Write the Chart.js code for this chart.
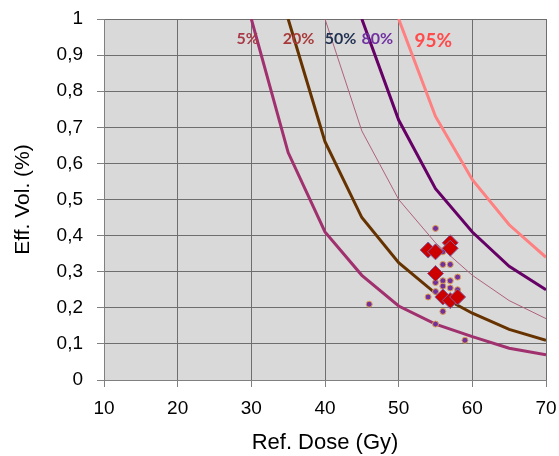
<!DOCTYPE html>
<html>
<head>
<meta charset="utf-8">
<script src="https://cdn.jsdelivr.net/npm/chart.js@4"></script>
<style>
  html, body { margin: 0; padding: 0; background: #fff; }
  #wrap { width: 559px; height: 456px; }
</style>
</head>
<body>
<div id="wrap"><canvas id="myChart" width="559" height="456"></canvas></div>
<script>
'use strict';

// reference dose (Gy) where the iso curves are sampled
const curveDoses5  = [30, 35, 40, 45, 50, 55, 60, 65, 70];
const curve5       = [1, 0.63, 0.41, 0.29, 0.205, 0.155, 0.12, 0.088, 0.07];
const curveDoses20 = [35, 40, 45, 50, 55, 60, 65, 70];
const curve20      = [1, 0.66, 0.45, 0.325, 0.24, 0.185, 0.14, 0.11];
const curveDoses50 = [40, 45, 50, 55, 60, 65, 70];
const curve50      = [1, 0.69, 0.5, 0.38, 0.29, 0.22, 0.17];
const curveDoses80 = [45, 50, 55, 60, 65, 70];
const curve80      = [1, 0.72, 0.53, 0.41, 0.315, 0.25];
const curveDoses95 = [50, 55, 60, 65, 70];
const curve95      = [1, 0.73, 0.555, 0.43, 0.34];

// patients (small dots)
const dotDose = [46, 54, 55, 55, 55, 55, 56, 56, 56, 56, 56, 56, 57, 57, 57, 58, 58, 59];
const dotVol  = [0.21, 0.23, 0.42, 0.27, 0.245, 0.155, 0.355, 0.32, 0.275, 0.26, 0.24, 0.19, 0.32, 0.275, 0.255, 0.285, 0.25, 0.11];

// patients with complication (diamonds)
const diaDose = [54, 55, 57, 57, 55, 56, 57, 58];
const diaVol  = [0.36, 0.355, 0.38, 0.365, 0.295, 0.23, 0.22, 0.23];

const curveLabels = ['5%', '20%', '50%', '80%', '95%'];
const labelDose   = [29.5, 36.4, 42.1, 47.1, 54.7];
const labelVol    = [0.945, 0.945, 0.945, 0.945, 0.94];

const xTicks = [10, 20, 30, 40, 50, 60, 70];

function pts(xs, ys){
  return xs.map((x, i) => ({x: x, y: ys[i]}));
}

function curve(label, xs, ys, color, width){
  return {
    label: label,
    data: pts(xs, ys),
    showLine: true,
    borderColor: color,
    backgroundColor: color,
    borderWidth: width,
    pointRadius: 0,
    tension: 0,
    order: 5
  };
}

const plotBg = {
  id: 'plotBg',
  beforeDraw(chart){
    const a = chart.chartArea;
    const ctx = chart.ctx;
    ctx.save();
    ctx.fillStyle = '#d9d9d9';
    ctx.fillRect(a.left, a.top, a.right - a.left, a.bottom - a.top);
    ctx.restore();
  }
};

const curveText = {
  id: 'curveText',
  afterDatasetsDraw(chart){
    const ctx = chart.ctx;
    const xs = chart.scales.x;
    const ys = chart.scales.y;
    const colors = ['#a83a48', '#a83a3a', '#1f3050', '#7030a0', '#ff4b4b'];
    const sizes = [16, 16, 16, 16, 19];
    ctx.save();
    ctx.textAlign = 'center';
    ctx.textBaseline = 'middle';
    for(let i = 0; i < curveLabels.length; i++){
      ctx.font = 'bold ' + sizes[i] + 'px Lato, sans-serif';
      ctx.fillStyle = colors[i];
      ctx.fillText(curveLabels[i], xs.getPixelForValue(labelDose[i]), ys.getPixelForValue(labelVol[i]));
    }
    ctx.restore();
  }
};

const ctx = document.getElementById('myChart').getContext('2d');
new Chart(ctx, {
  type: 'scatter',
  data: {
    datasets: [
      {
        label: 'complication',
        data: pts(diaDose, diaVol),
        pointStyle: 'rectRot',
        pointRadius: 8,
        backgroundColor: '#cc0000',
        borderColor: '#8060a0',
        borderWidth: 1,
        order: 1
      },
      {
        label: 'patients',
        data: pts(dotDose, dotVol),
        pointStyle: 'circle',
        pointRadius: 3,
        backgroundColor: '#7030a0',
        borderColor: '#e0a050',
        borderWidth: 1,
        order: 2
      },
      curve('5%', curveDoses5, curve5, '#a0306e', 3),
      curve('20%', curveDoses20, curve20, '#663300', 3),
      curve('50%', curveDoses50, curve50, '#b0607e', 1),
      curve('80%', curveDoses80, curve80, '#660066', 3),
      curve('95%', curveDoses95, curve95, '#ff8080', 3)
    ]
  },
  options: {
    responsive: false,
    animation: false,
    layout: { padding: { top: 19, right: 13, left: 0, bottom: 0 } },
    plugins: {
      legend: { display: false },
      tooltip: { enabled: false }
    },
    scales: {
      x: {
        type: 'linear',
        min: 10,
        max: 70,
        afterBuildTicks(axis){ axis.ticks = xTicks.map(v => ({value: v})); },
        afterFit(axis){ axis.height = 76; axis.paddingLeft = 0; axis.paddingRight = 0; },
        grid: { color: '#6e6e6e', lineWidth: 1, tickLength: 7, tickColor: '#808080' },
        border: { color: '#808080' },
        ticks: { color: '#000', font: { family: 'Liberation Sans, Arial', size: 19 }, padding: 10, maxRotation: 0 },
        title: { display: true, text: 'Ref. Dose (Gy)', color: '#000', font: { family: 'Liberation Sans, Arial', size: 22 }, padding: { top: 0, bottom: 0 } }
      },
      y: {
        type: 'linear',
        min: 0,
        max: 1,
        afterFit(axis){ axis.width = 104; axis.paddingTop = 0; axis.paddingBottom = 0; },
        ticks: {
          stepSize: 0.1,
          color: '#000',
          font: { family: 'Liberation Sans, Arial', size: 19 },
          padding: 14,
          callback(v){
            const r = Math.round(v * 10) / 10;
            if(r === 0 || r === 1) return String(r);
            return r.toFixed(1).replace('.', ',');
          }
        },
        grid: { color: '#6e6e6e', lineWidth: 1, tickLength: 7, tickColor: '#808080' },
        border: { color: '#808080' },
        title: { display: true, text: 'Eff. Vol. (%)', color: '#000', font: { family: 'Liberation Sans, Arial', size: 21 }, padding: { top: 11, bottom: 0 } }
      }
    }
  },
  plugins: [plotBg, curveText]
});
</script>
</body>
</html>
